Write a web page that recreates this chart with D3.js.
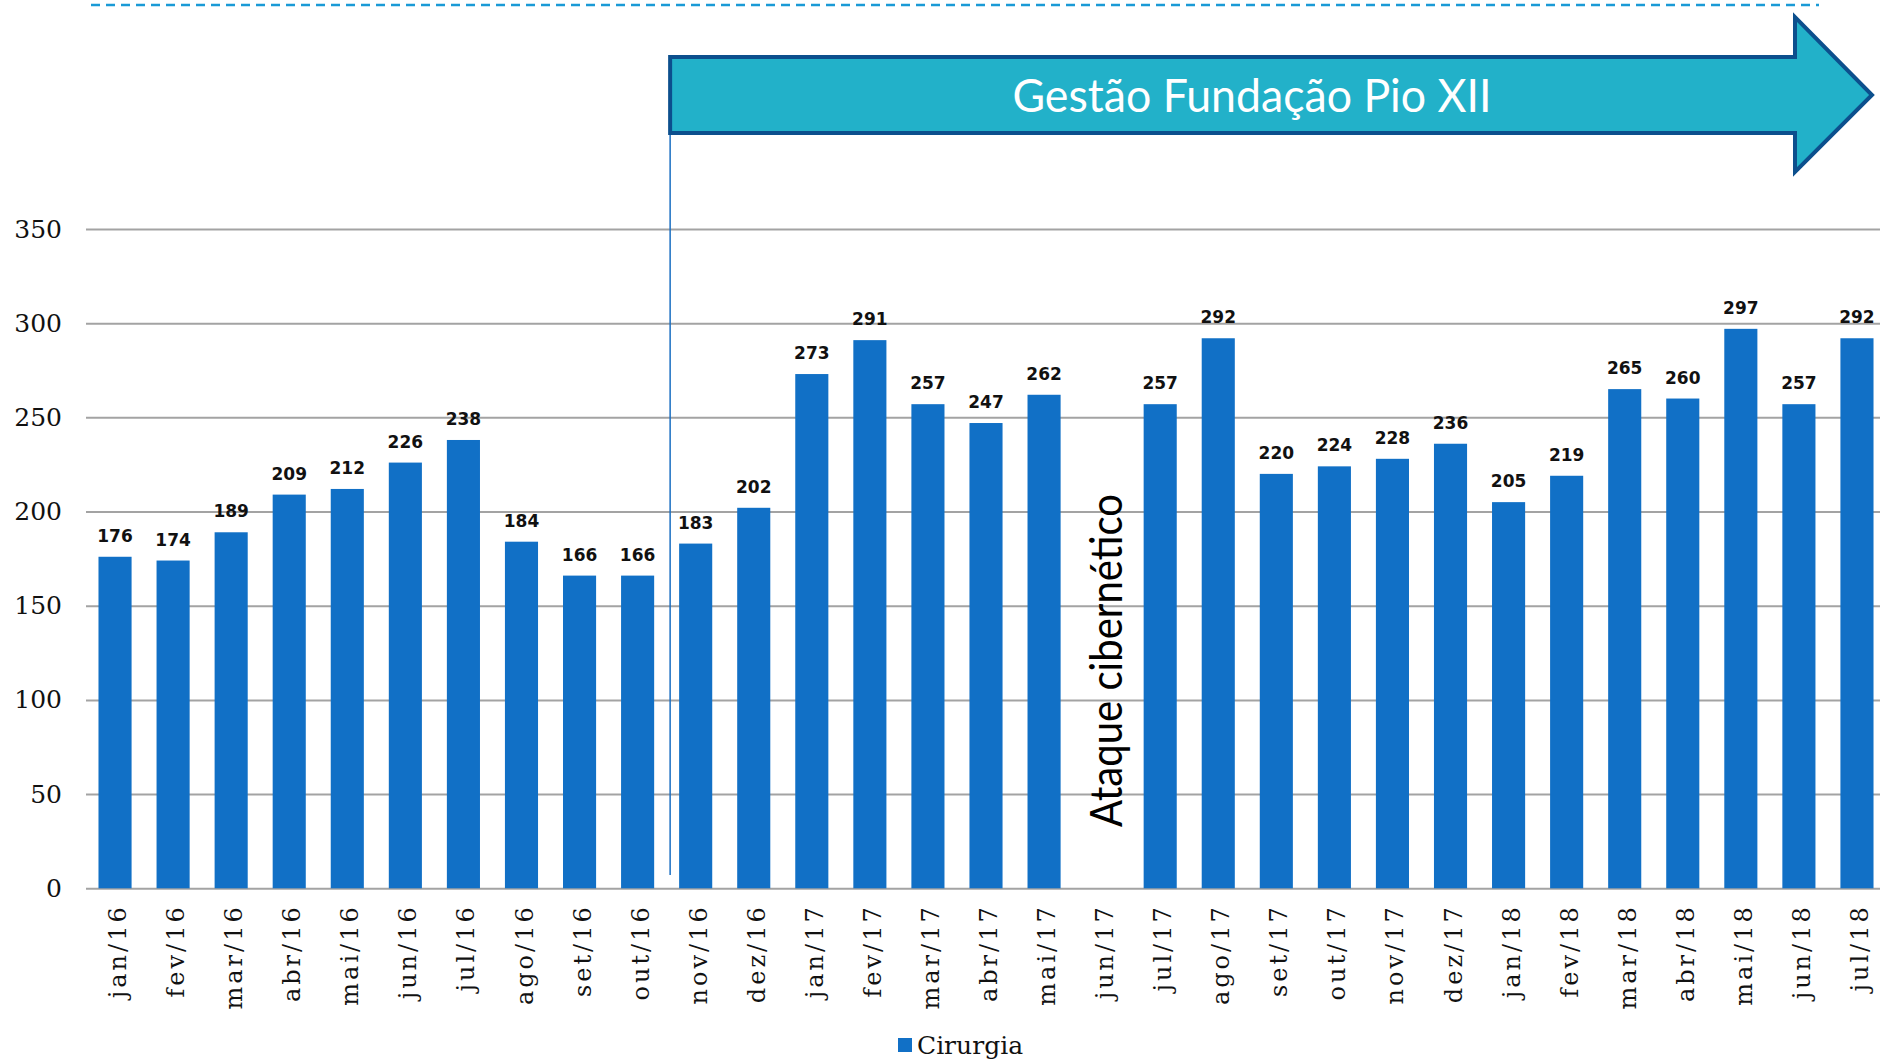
<!DOCTYPE html>
<html>
<head>
<meta charset="utf-8">
<script src="https://cdn.jsdelivr.net/npm/d3@7"></script>
<style>
  body { margin: 0; background: #fff; }
  svg { display: block; }
</style>
</head>
<body>
<script>
// months, jan/16 .. jul/18
const months = ["jan/16","fev/16","mar/16","abr/16","mai/16","jun/16","jul/16","ago/16","set/16","out/16","nov/16","dez/16",
  "jan/17","fev/17","mar/17","abr/17","mai/17","jun/17","jul/17","ago/17","set/17","out/17","nov/17","dez/17",
  "jan/18","fev/18","mar/18","abr/18","mai/18","jun/18","jul/18"];
// cirurgias per month (jun/17 missing: ataque cibernético)
const cirurgia = [176,174,189,209,212,226,238,184,166,166,183,202,
  273,291,257,247,262,null,257,292,220,224,228,236,
  205,219,265,260,297,257,292];
const yTicks = [0,50,100,150,200,250,300,350];
const seriesName = "Cirurgia";
const bannerText = "Gestão Fundação Pio XII";
const attackText = "Ataque cibernético";
const attackMonth = "jun/17";
const startMonth = "nov/16";

function main(){
  const W = 1880, H = 1061;
  const left = 86, right = 1886, top = 229, bottom = 888.3;

  const svg = d3.select("body").append("svg")
      .attr("width", W).attr("height", H);

  const x = d3.scaleBand()
      .domain(months)
      .range([left, right])
      .paddingInner(0.43)
      .paddingOuter(0.215);

  const y = d3.scaleLinear()
      .domain([0, 350])
      .range([bottom, top]);

  // y axis + gridlines
  const yAxis = svg.append("g")
      .attr("transform", `translate(${left},0)`)
      .call(d3.axisLeft(y).tickValues(yTicks).tickSize(-(W - left)).tickPadding(24));
  yAxis.select(".domain").remove();
  yAxis.selectAll("line").attr("stroke", "#a3a3a3").attr("stroke-width", 2);
  yAxis.selectAll("text")
      .attr("font-family", "DejaVu Serif")
      .attr("font-size", 25)
      .attr("fill", "#111");

  // x axis labels
  const xAxis = svg.append("g")
      .attr("transform", `translate(0,${bottom})`)
      .call(d3.axisBottom(x).tickSize(0));
  xAxis.select(".domain").remove();
  xAxis.selectAll("text")
      .attr("font-family", "DejaVu Serif")
      .attr("font-size", 24)
      .attr("letter-spacing", 3)
      .attr("fill", "#111")
      .attr("x", 0).attr("y", 0)
      .attr("dy", "0.46em")
      .attr("text-anchor", "end")
      .attr("transform", "translate(0,16) rotate(-90)");

  // bars
  const data = months.map((m, i) => ({m, v: cirurgia[i]})).filter(d => d.v != null);
  svg.append("g").selectAll("rect")
    .data(data)
    .join("rect")
      .attr("x", d => x(d.m))
      .attr("y", d => y(d.v))
      .attr("width", x.bandwidth())
      .attr("height", d => y(0) - y(d.v))
      .attr("fill", "#1170c6");

  // value labels
  svg.append("g").selectAll("text")
    .data(data)
    .join("text")
      .attr("x", d => x(d.m) + x.bandwidth() / 2)
      .attr("y", d => y(d.v) - 15)
      .attr("text-anchor", "middle")
      .attr("font-family", "DejaVu Sans")
      .attr("font-weight", "bold")
      .attr("font-size", 17)
      .attr("fill", "#111")
      .text(d => d.v);

  // top dashed line
  svg.append("line")
      .attr("x1", 91).attr("x2", 1819)
      .attr("y1", 5).attr("y2", 5)
      .attr("stroke", "#1a9ad6")
      .attr("stroke-width", 2.5)
      .attr("stroke-dasharray", "9,6");

  // start of management marker
  const vx = x(startMonth) - 9;
  svg.append("line")
      .attr("x1", vx).attr("x2", vx)
      .attr("y1", 133).attr("y2", 875)
      .attr("stroke", "#1a6fc2")
      .attr("stroke-width", 1.5);

  // arrow banner
  const bodyTop = 57, bodyBot = 133, headX = 1795, tipX = 1872;
  const arrow = [[vx, bodyTop],[headX, bodyTop],[headX, 17],[tipX, 95],[headX, 172],[headX, bodyBot],[vx, bodyBot]];
  svg.append("path")
      .attr("d", d3.line()(arrow) + "Z")
      .attr("fill", "#22b1c9")
      .attr("stroke", "#0c4f8d")
      .attr("stroke-width", 4)
      .attr("stroke-linejoin", "miter");
  svg.append("text")
      .attr("x", 1252).attr("y", 95)
      .attr("dy", "0.36em")
      .attr("text-anchor", "middle")
      .attr("font-family", "Lato")
      .attr("font-size", 46)
      .attr("fill", "#fff")
      .attr("textLength", 479)
      .attr("lengthAdjust", "spacingAndGlyphs")
      .text(bannerText);

  // attack annotation
  const ax = x(attackMonth) + x.bandwidth() / 2 + 20;
  svg.append("text")
      .attr("transform", `translate(${ax},827) rotate(-90)`)
      .attr("font-family", "Lato")
      .attr("font-size", 44)
      .attr("fill", "#000")
      .attr("textLength", 333)
      .attr("lengthAdjust", "spacingAndGlyphs")
      .text(attackText);

  // legend
  const lg = svg.append("g").attr("transform", "translate(898,1038)");
  lg.append("rect").attr("width", 14).attr("height", 14).attr("fill", "#1170c6");
  lg.append("text")
      .attr("x", 19).attr("y", 16)
      .attr("font-family", "DejaVu Serif")
      .attr("font-size", 25)
      .attr("fill", "#111")
      .text(seriesName);
}

main();
</script>
</body>
</html>
